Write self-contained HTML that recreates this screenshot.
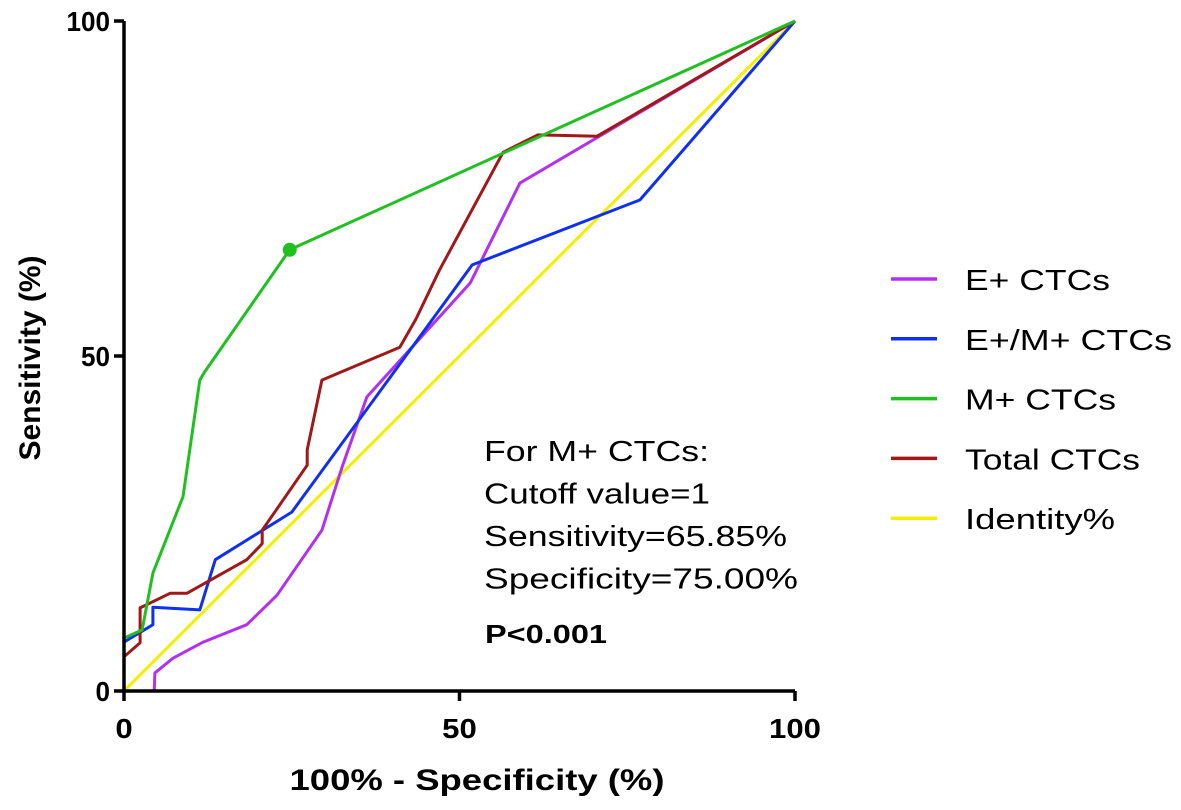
<!DOCTYPE html>
<html><head><meta charset="utf-8"><style>
body{margin:0;background:#fff}
svg{display:block;font-family:"Liberation Sans",Arial,sans-serif}
</style></head><body>
<svg id="c" width="1181" height="810"></svg>
<script>
const xTicks=[0,50,100];
const yTicks=[0,50,100];
const seriesNames=["E+ CTCs","E+/M+ CTCs","M+ CTCs","Total CTCs","Identity%"];
const seriesColors=["#b430f0","#1030f0","#20c020","#a01818","#f0f000"];
const eX=[0,4.5,4.6,7.3,11.8,18.3,22.8,29.5,32.6,36.2,51.6,59,100];
const eY=[0,0,2.7,4.9,7.3,9.9,14.3,24,33.7,43.9,60.9,75.8,100];
const emX=[0,0,4.3,4.3,11.3,13.6,25,51.9,76.9,100];
const emY=[0,7.3,9.9,12.5,12.1,19.6,26.7,63.6,73.3,100];
const mX=[0,2.7,4.3,8.8,11.3,12,24.7,100];
const mY=[7.9,9.1,17.6,29,46.4,47.6,65.85,100];
const tX=[0,2.4,2.4,6.9,9.4,18.3,20.6,20.6,27.3,27.3,29.5,41.1,43.5,47,56.5,61.7,70.5,100];
const tY=[5.1,7.2,12.4,14.6,14.6,19.6,22,24,33.7,36,46.4,51.3,55.5,62.8,80.4,83,82.8,100];
const idX=[0,100];
const idY=[0,100];
const cutoffX=[24.7], cutoffY=[65.85];

const NS="http://www.w3.org/2000/svg";
const svg=document.getElementById('c');
const X0=124,X1=795,Y0=691,Y1=21;
const sx=v=>X0+(v/100)*(X1-X0);
const sy=v=>Y0-(v/100)*(Y0-Y1);
function mk(t,a,p){const e=document.createElementNS(NS,t);for(const k in a)e.setAttribute(k,a[k]);(p||svg).appendChild(e);return e;}
function fit(t,w){t.setAttribute('textLength',w);t.setAttribute('lengthAdjust','spacingAndGlyphs');}

const series=[[eX,eY],[emX,emY],[mX,mY],[tX,tY],[idX,idY]];
const order=[4,0,1,3,2];
order.forEach(i=>{
  const [xs,ys]=series[i];
  const pts=xs.map((x,j)=>sx(x).toFixed(1)+','+sy(ys[j]).toFixed(1)).join(' ');
  const pl=mk('polyline',{points:pts,fill:'none',stroke:seriesColors[i],'stroke-width':3,'stroke-linejoin':'round'});
  
  
});
cutoffX.forEach((x,j)=>{
  const c=mk('circle',{cx:sx(x),cy:sy(cutoffY[j]),r:7,fill:seriesColors[2]});
  
  
});
const ax=mk('path',{d:`M${X0},${Y1} V${Y0} H${X1}`,fill:'none',stroke:'#000','stroke-width':3.5});


xTicks.forEach(v=>{
  const l=mk('line',{x1:sx(v),x2:sx(v),y1:Y0,y2:Y0+10,stroke:'#000','stroke-width':3.5});
  
  
  const t=mk('text',{x:sx(v),y:Y0+47,'text-anchor':'middle','font-size':28,'font-weight':'bold'});
  t.textContent=v;
  fit(t,String(v).length*17.3);
  
  
});
yTicks.forEach(v=>{
  const l=mk('line',{x1:X0-10,x2:X0,y1:sy(v),y2:sy(v),stroke:'#000','stroke-width':3.5});
  
  
  const t=mk('text',{x:X0-14,y:sy(v)+10,'text-anchor':'end','font-size':28,'font-weight':'bold'});
  t.textContent=v;
  fit(t,String(v).length*14.5);
  
  
});
const xt=mk('text',{x:477,y:790,'text-anchor':'middle','font-size':30,'font-weight':'bold'});
xt.textContent='100% - Specificity (%)';
fit(xt,375);


const yt=mk('text',{x:0,y:0,transform:'translate(40,358) rotate(-90)','text-anchor':'middle','font-size':30,'font-weight':'bold'});
yt.textContent='Sensitivity (%)';
fit(yt,205);


const ann=["For M+ CTCs:","Cutoff value=1","Sensitivity=65.85%","Specificity=75.00%"];
const annW=[225,226,303,314];
ann.forEach((s,i)=>{
  const t=mk('text',{x:484,y:461+i*42.5,'font-size':29});
  t.textContent=s;
  fit(t,annW[i]);
  
  
});
const p=mk('text',{x:485,y:643,'font-size':26,'font-weight':'bold'});
p.textContent='P<0.001';
fit(p,122);


const legW=[145,207,151,175,150];
seriesNames.forEach((n,i)=>{
  const y=279+i*59.8;
  const g=mk('g',{});
  
  
  mk('line',{x1:891,x2:937,y1:y,y2:y,stroke:seriesColors[i],'stroke-width':3.5},g);
  const t=mk('text',{x:965,y:y+11,'font-size':29},g);
  t.textContent=n;
  fit(t,legW[i]);
});
</script>
</body></html>
